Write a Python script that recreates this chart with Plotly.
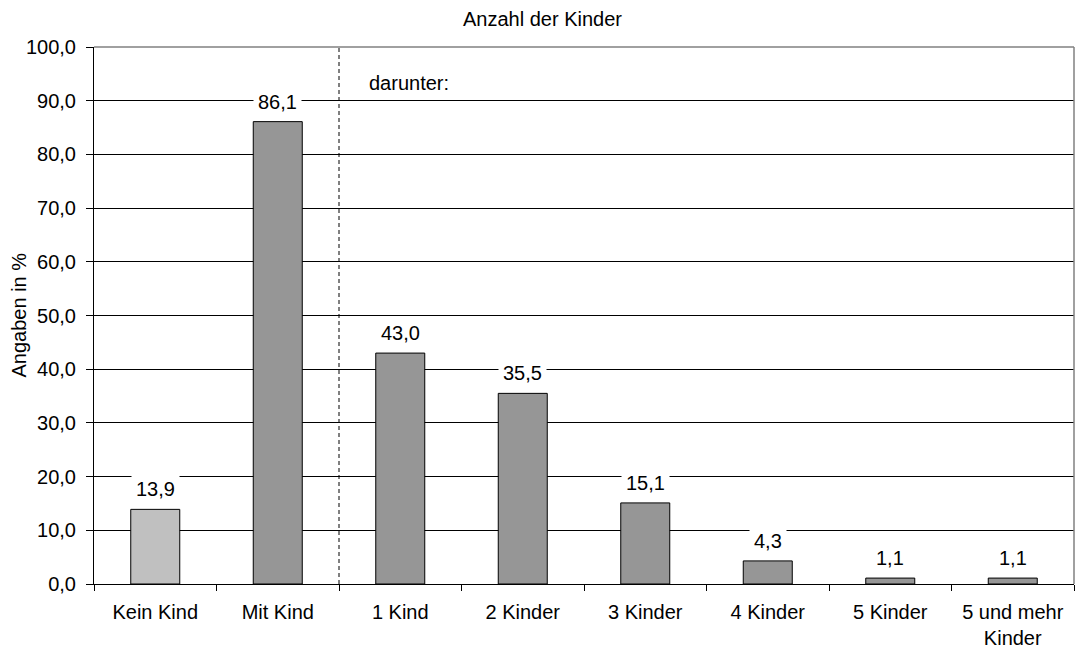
import plotly.graph_objects as go

categories = ["Kein Kind", "Mit Kind", "1 Kind", "2 Kinder", "3 Kinder",
              "4 Kinder", "5 Kinder", "5 und mehr<br>Kinder"]
values = [13.9, 86.1, 43.0, 35.5, 15.1, 4.3, 1.1, 1.1]
bar_colors = ["#C0C0C0"] + ["#969696"] * 7
y_ticks = [0, 10, 20, 30, 40, 50, 60, 70, 80, 90, 100]

FONT = "Arial, 'Liberation Sans', Helvetica, sans-serif"
FS = 20

fig = go.Figure()
fig.add_trace(go.Bar(
    x=categories, y=values,
    marker=dict(color=bar_colors, line=dict(color="#000000", width=1)),
    hoverinfo="skip",
))

annotations = []
for c, v in zip(categories, values):
    annotations.append(dict(
        x=c, y=v, xref="x", yref="y",
        text=f"{v:.1f}".replace(".", ","),
        showarrow=False, xanchor="center", yanchor="bottom", yshift=4,
        bgcolor="#FFFFFF", borderpad=4,
        font=dict(family=FONT, size=FS, color="#000000"),
    ))

annotations.append(dict(
    x=1.5, y=93.3, xref="x", yref="y", xanchor="left", yanchor="middle",
    xshift=28, text="darunter:", showarrow=False,
    font=dict(family=FONT, size=FS, color="#000000"),
))
annotations.append(dict(
    x=(542 - 94) / 980, y=1.052, xref="paper", yref="paper",
    xanchor="center", yanchor="middle", text="Anzahl der Kinder",
    showarrow=False, font=dict(family=FONT, size=FS, color="#000000"),
))
annotations.append(dict(
    x=(18 - 94) / 980, y=0.5, xref="paper", yref="paper",
    xanchor="center", yanchor="middle", text="Angaben in %", textangle=-90,
    showarrow=False, font=dict(family=FONT, size=FS, color="#000000"),
))

shapes = [
    dict(type="line", xref="x", yref="y", x0=1.5, x1=1.5, y0=0, y1=100,
         line=dict(color="#000000", width=1, dash="4px,3px"), layer="above"),
    dict(type="line", xref="paper", yref="paper", x0=0, x1=1, y0=1, y1=1,
         line=dict(color="#808080", width=1.5), layer="above"),
    dict(type="line", xref="paper", yref="paper", x0=1, x1=1, y0=0, y1=1,
         line=dict(color="#808080", width=1.5), layer="above"),
]

fig.update_layout(
    width=1075, height=650,
    margin=dict(l=94, r=1, t=47, b=66, autoexpand=False),
    paper_bgcolor="#FFFFFF", plot_bgcolor="#FFFFFF",
    separators=",.",
    bargap=0.6,
    showlegend=False,
    font=dict(family=FONT, size=FS, color="#000000"),
    annotations=annotations,
    shapes=shapes,
    xaxis=dict(
        type="category", showline=True, linecolor="#000000", linewidth=1,
        ticks="outside", tickson="boundaries", ticklen=6, tickcolor="#000000",
        showgrid=False, ticklabelstandoff=10, automargin=False,
        tickfont=dict(family=FONT, size=FS, color="#000000"),
        range=[-0.5, 7.5],
    ),
    yaxis=dict(
        range=[0, 100], tickvals=y_ticks, tickformat=".1f",
        showline=True, linecolor="#000000", linewidth=1,
        ticks="outside", ticklen=7, tickcolor="#000000",
        showgrid=True, gridcolor="#000000", gridwidth=1,
        zeroline=False, ticklabelstandoff=6, automargin=False,
        tickfont=dict(family=FONT, size=FS, color="#000000"),
    ),
)

fig.write_html(
    "out.html",
    config={"displayModeBar": False},
    post_script="document.body.style.margin='0';document.body.style.overflow='hidden';",
)
